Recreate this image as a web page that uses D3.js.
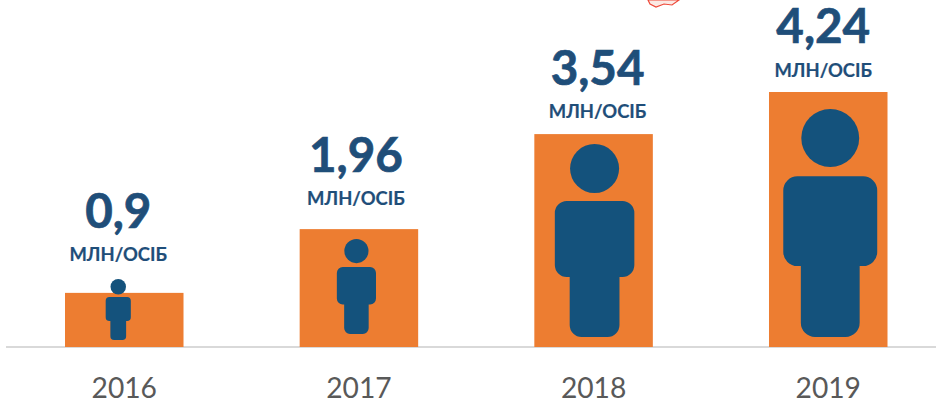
<!DOCTYPE html>
<html lang="uk">

<head>
    <meta charset="UTF-8">
    <title>Млн/осіб 2016-2019</title>
    <style>
    body {
        margin: 0;
        background: #fff;
        overflow: hidden;
        font-family: Lato, "Open Sans", sans-serif;
    }

    svg {
        display: block;
    }

    .value {
        font-size: 47.5px;
        font-weight: 700;
        fill: #1f4e79;
        stroke: #1f4e79;
        stroke-width: 0.7px;
        text-anchor: middle;
    }

    .unit {
        font-size: 18.4px;
        font-weight: 700;
        fill: #1f4e79;
        stroke: #1f4e79;
        stroke-width: 0.2px;
        text-anchor: middle;
    }

    .axis text {
        font-family: Lato, "Open Sans", sans-serif;
        font-size: 28.2px;
        fill: #595959;
    }
    </style>
</head>

<body>
    <svg width="936" height="404"></svg>
    <script src="https://d3js.org/d3.v7.min.js"></script>
    <script>
    const years = ["2016", "2017", "2018", "2019"];
    const values = [0.9, 1.96, 3.54, 4.24];
    const valueLabels = ["0,9", "1,96", "3,54", "4,24"];
    const unitLabel = "МЛН/ОСІБ";

    // hand placed in the source slide, so the offsets are per column
    const iconHeights = [61, 95, 193, 228];
    const iconDx = [-6, -2.5, 1, 2];
    const iconGap = [7, 13, 10, 10];
    const textDx = [-6, -3, 4, -5];
    const unitGap = [32, 24, 16, 15];
    const valueGap = [65, 57, 49, 49];

    const baseline = 347;

    const svg = d3.select("svg");

    const x = d3.scaleBand()
        .domain(years)
        .range([65, 887.5])
        .paddingInner(0.495);

    const y = d3.scaleLinear()
        .domain([0, 4.24])
        .range([baseline, 92]);

    // the little red scrap cut off at the top of the picture
    svg.append("path")
        .attr("d", "M648,0 L650,4 L656,7 L664,4 L672,5 L679,0 Z")
        .attr("fill", "#fbe9e4")
        .attr("stroke", "#ee4a3a")
        .attr("stroke-width", 1.2);

    const axis = svg.append("g")
        .attr("class", "axis")
        .attr("transform", `translate(0,${baseline})`)
        .call(d3.axisBottom(x).tickSize(0).tickPadding(22));

    axis.select(".domain").remove();
    axis.selectAll("text").attr("dy", null).attr("dominant-baseline", "auto").attr("y", 51);

    axis.append("line")
        .attr("x1", 6)
        .attr("x2", 936)
        .attr("stroke", "#d9d9d9")
        .attr("stroke-width", 2);

    svg.selectAll(".bar")
        .data(values)
        .enter().append("rect")
        .attr("class", "bar")
        .attr("x", (d, i) => x(years[i]))
        .attr("y", d => y(d))
        .attr("width", x.bandwidth())
        .attr("height", d => y(0) - y(d))
        .attr("fill", "#ed7d31");

    // body and legs of the person, bottom centre at 0,0
    function bodyPath(h) {
        const top = -h * 0.705;
        const shoulder = -h * 0.311;
        const bodyW = h * 0.206;
        const legW = h * 0.129;
        const r = h * 0.062;
        const p = d3.path();
        p.moveTo(-legW, shoulder);
        p.lineTo(-bodyW + r, shoulder);
        p.arcTo(-bodyW, shoulder, -bodyW, shoulder - r, r);
        p.lineTo(-bodyW, top + r);
        p.arcTo(-bodyW, top, -bodyW + r, top, r);
        p.lineTo(bodyW - r, top);
        p.arcTo(bodyW, top, bodyW, top + r, r);
        p.lineTo(bodyW, shoulder - r);
        p.arcTo(bodyW, shoulder, bodyW - r, shoulder, r);
        p.lineTo(legW, shoulder);
        p.lineTo(legW, -r);
        p.arcTo(legW, 0, legW - r, 0, r);
        p.lineTo(-legW + r, 0);
        p.arcTo(-legW, 0, -legW, -r, r);
        p.closePath();
        return p.toString();
    }

    const icons = svg.selectAll(".icon")
        .data(values)
        .enter().append("g")
        .attr("class", "icon")
        .attr("fill", "#14527c")
        .attr("transform", (d, i) =>
            `translate(${x(years[i]) + x.bandwidth() / 2 + iconDx[i]},${baseline - iconGap[i]})`);

    icons.append("circle")
        .attr("cy", (d, i) => -iconHeights[i] * 0.873)
        .attr("r", (d, i) => iconHeights[i] * 0.127);

    icons.append("path")
        .attr("d", (d, i) => bodyPath(iconHeights[i]));

    svg.selectAll(".value")
        .data(values)
        .enter().append("text")
        .attr("class", "value")
        .attr("x", (d, i) => x(years[i]) + x.bandwidth() / 2 + textDx[i])
        .attr("y", (d, i) => y(d) - valueGap[i])
        .text((d, i) => valueLabels[i]);

    svg.selectAll(".unit")
        .data(values)
        .enter().append("text")
        .attr("class", "unit")
        .attr("x", (d, i) => x(years[i]) + x.bandwidth() / 2 + textDx[i])
        .attr("y", (d, i) => y(d) - unitGap[i])
        .text(unitLabel);
    </script>
</body>

</html>
